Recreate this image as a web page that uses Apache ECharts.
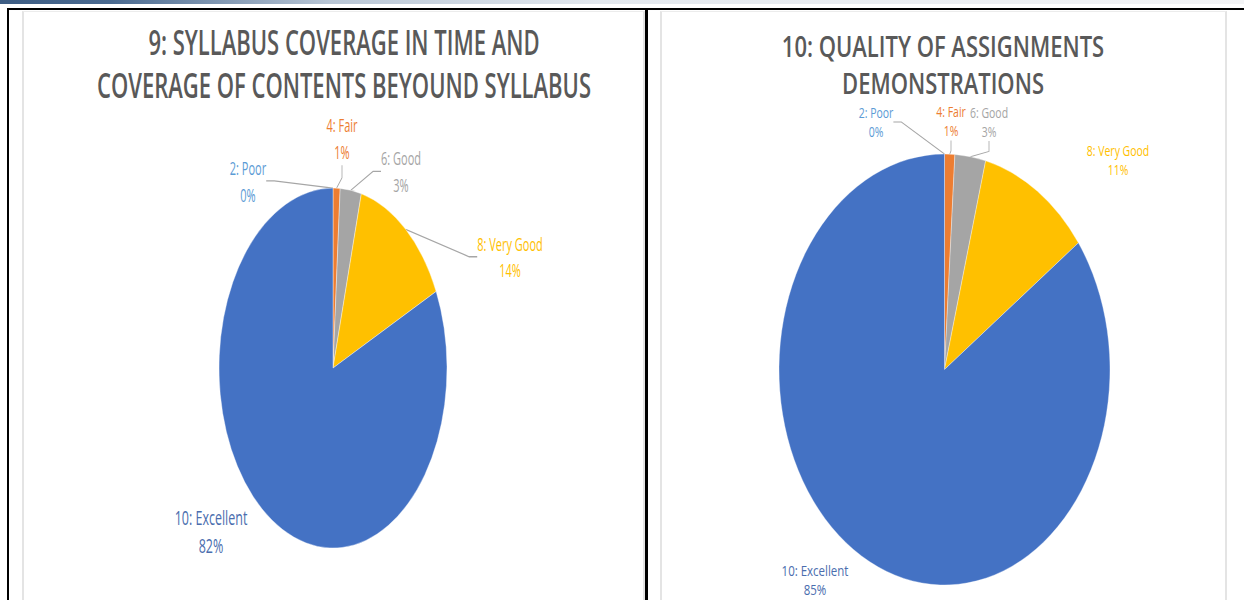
<!DOCTYPE html>
<html>
<head>
<meta charset="utf-8">
<script src="https://cdn.jsdelivr.net/npm/echarts@6/dist/echarts.min.js"></script>
<style>
  html, body { margin: 0; padding: 0; background: #fff; width: 1244px; height: 600px; overflow: hidden; }
  #hdr { position: absolute; left: 0; top: 0; width: 1244px; height: 4px;
         background: linear-gradient(to right, #3d5d84 0px, #4a6a90 110px, #b9c6d5 330px, #e3e8ee 600px, #f3f4f6 1244px); }
  .blk { position: absolute; background: #000; }
  .panel { position: absolute; top: 11px; height: 589px; border-left: 2px solid #e4e4e4; border-right: 2px solid #e4e4e4; border-top: 1px solid #ececec; box-sizing: border-box; overflow: hidden; }
  .chart { position: absolute; left: 0; top: 0; transform-origin: 0 0; }
</style>
</head>
<body>
<div id="hdr"></div>
<div class="blk" style="left:7px;top:8px;width:1237px;height:2px;"></div>
<div class="blk" style="left:7px;top:8px;width:2px;height:592px;"></div>
<div class="blk" style="left:645px;top:8px;width:3px;height:592px;"></div>

<div class="panel" style="left:22px;width:623px;">
  <div id="c1" class="chart" style="left:-1px;width:620px;height:373px;transform:scaleY(1.579);"></div>
</div>
<div class="panel" style="left:660px;width:567px;">
  <div id="c2" class="chart" style="left:-1px;width:564px;height:462px;transform:scaleY(1.302);"></div>
</div>

<script>
// ---- data ----
const categories = ['2: Poor', '4: Fair', '6: Good', '8: Very Good', '10: Excellent'];
const syllabusValues = [0, 1, 3, 14, 82];
const assignmentValues = [0, 1, 3, 11, 85];
const syllabusTitle = '9: SYLLABUS COVERAGE IN TIME AND\nCOVERAGE OF CONTENTS BEYOUND SYLLABUS';
const assignmentTitle = '10: QUALITY OF ASSIGNMENTS\nDEMONSTRATIONS';

// ---- styles / layout ----
const sliceColors = ['#5B9BD5', '#ED7D31', '#A5A5A5', '#FFC000', '#4472C4'];
const labelColors = ['#5B9BD5', '#ED7D31', '#A5A5A5', '#FFC000', '#4A6DAE'];
const FONT = "'Open Sans', 'Noto Sans', sans-serif";

function makeOption(cfg) {
  return {
    animation: false,
    title: {
      text: cfg.title, left: cfg.titleX, top: cfg.titleTop, textAlign: 'center', padding: 0,
      textStyle: { fontFamily: FONT, fontSize: cfg.titleSize, fontWeight: 600, color: '#595959', lineHeight: cfg.titleLH }
    },
    series: [{
      type: 'pie',
      center: cfg.center,
      radius: cfg.radius,
      startAngle: 90,
      clockwise: true,
      percentPrecision: 0,
      avoidLabelOverlap: false,
      silent: true,
      emphasis: { disabled: true },
      itemStyle: { borderColor: 'rgba(255,255,255,0.6)', borderWidth: 0.5 },
      label: {
        show: true, position: 'outside', formatter: '{b}\n{d}%',
        fontFamily: FONT, fontSize: cfg.labelSize, lineHeight: cfg.labelLH, align: 'center'
      },
      labelLine: { show: true, length: 8, length2: 8, lineStyle: { color: '#a6a6a6', width: 0.8 } },
      labelLayout: function (p) {
        const pos = cfg.labelPos[p.dataIndex];
        return { x: pos[0], y: pos[1], align: 'center', verticalAlign: 'middle' };
      },
      data: categories.map(function (name, i) {
        return {
          name: name,
          value: cfg.values[i],
          itemStyle: { color: sliceColors[i] },
          label: { color: labelColors[i], fontSize: i === 4 ? cfg.bigLabelSize : cfg.labelSize, lineHeight: i === 4 ? cfg.bigLabelLH : cfg.labelLH },
          labelLine: { show: cfg.lineShown[i] }
        };
      })
    }]
  };
}

const chart1 = echarts.init(document.getElementById('c1'), null, { renderer: 'svg' });
chart1.setOption(makeOption({
  title: syllabusTitle, titleX: 321, titleTop: 5, titleSize: 22, titleLH: 27.3,
  center: [310, 225.5], radius: 114,
  values: syllabusValues,
  labelSize: 11, labelLH: 17, bigLabelSize: 12.5, bigLabelLH: 18,
  lineShown: [true, true, true, true, false],
  labelPos: [[225, 107], [319, 80], [378, 101], [487, 155], [188, 329]]
}));

const chart2 = echarts.init(document.getElementById('c2'), null, { renderer: 'svg' });
chart2.setOption(makeOption({
  title: assignmentTitle, titleX: 282, titleTop: 12.3, titleSize: 22, titleLH: 28,
  center: [283.5, 274.6], radius: 165.5,
  values: assignmentValues,
  labelSize: 10.5, labelLH: 14.6, bigLabelSize: 11.5, bigLabelLH: 14.5,
  lineShown: [true, true, true, false, false],
  labelPos: [[215, 84.5], [290, 84], [328, 84.5], [457, 114], [154, 436.3]]
}));
</script>
</body>
</html>
